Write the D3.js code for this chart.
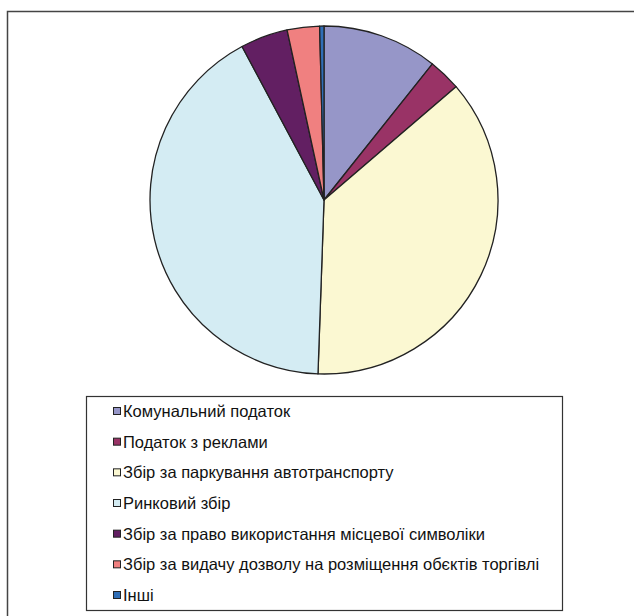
<!DOCTYPE html>
<html>
<head>
<meta charset="utf-8">
<script src="https://cdn.jsdelivr.net/npm/d3@7"></script>
<style>
  html, body { margin: 0; padding: 0; background: #fff; }
  svg { display: block; }
</style>
</head>
<body>
<svg id="chart" width="634" height="616"></svg>
<script>
// Local tax and fee revenue structure, %
const categories = [
  "Комунальний податок",
  "Податок з реклами",
  "Збір за паркування автотранспорту",
  "Ринковий збір",
  "Збір за право використання місцевої символіки",
  "Збір за видачу дозволу на розміщення обєктів торгівлі",
  "Інші"
];
const values = [10.7, 3.0, 36.8, 41.6, 4.4, 3.0, 0.4];
const colors = ["#9696c8", "#993366", "#fbf8d2", "#d4ecf3", "#621f62", "#f08080", "#2f6eb6"];

const data = categories.map((c, i) => ({ name: c, value: values[i], color: colors[i] }));

const svg = d3.select("#chart");

// outer chart-area frame
svg.append("rect")
  .attr("x", 7.5).attr("y", 11.5)
  .attr("width", 700).attr("height", 700)
  .attr("fill", "#fff")
  .attr("stroke", "#444").attr("stroke-width", 1.5);

// pie
const cx = 324, cy = 200, radius = 174;
const pie = d3.pie().value(d => d.value).sort(null);
const arc = d3.arc().innerRadius(0).outerRadius(radius);

svg.append("g")
  .attr("transform", `translate(${cx},${cy})`)
  .selectAll("path")
  .data(pie(data))
  .join("path")
  .attr("d", arc)
  .attr("fill", d => d.data.color)
  .attr("stroke", "#222")
  .attr("stroke-width", 1.3)
  .attr("stroke-linejoin", "round");

// legend
const legendBox = { x: 86, y: 396, w: 476, h: 214 };
svg.append("rect")
  .attr("x", legendBox.x + 0.5).attr("y", legendBox.y + 0.5)
  .attr("width", legendBox.w).attr("height", legendBox.h)
  .attr("fill", "#fff")
  .attr("stroke", "#333").attr("stroke-width", 1.2);

const rowY = d3.scalePoint()
  .domain(categories)
  .range([411, 595]);

const items = svg.append("g")
  .selectAll("g")
  .data(data)
  .join("g")
  .attr("transform", d => `translate(0,${rowY(d.name)})`);

items.append("rect")
  .attr("x", 113.5).attr("y", -3.5)
  .attr("width", 7).attr("height", 7)
  .attr("fill", d => d.color)
  .attr("stroke", "#222").attr("stroke-width", 1);

items.append("text")
  .attr("x", 123)
  .attr("y", 6)
  .attr("font-family", "Arial, 'Liberation Sans', sans-serif")
  .attr("font-size", 16.5)
  .attr("fill", "#111")
  .text(d => d.name);
</script>
</body>
</html>
